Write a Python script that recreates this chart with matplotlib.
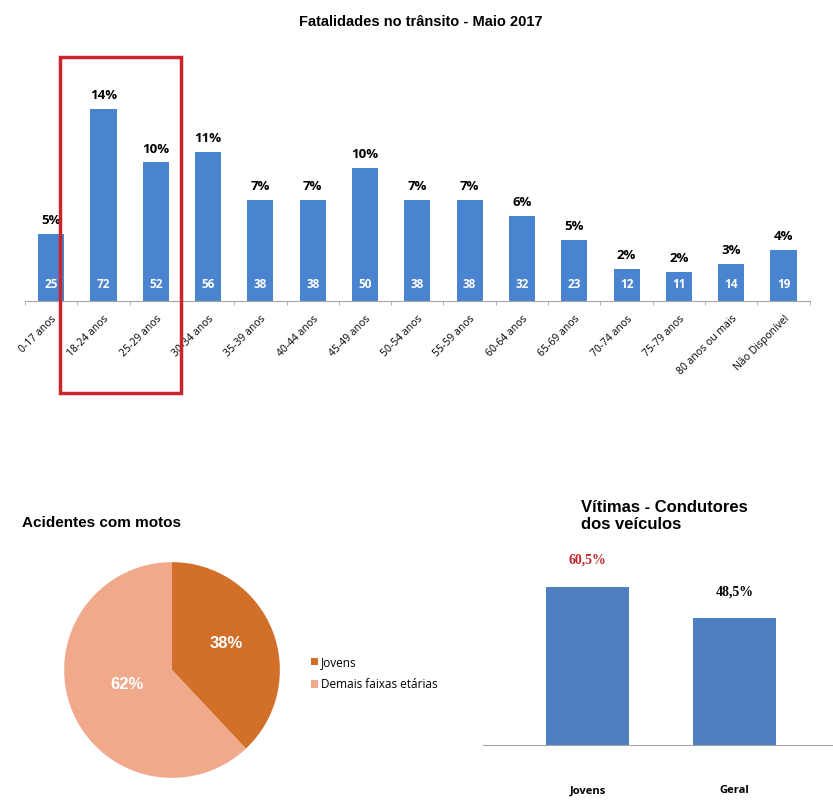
import matplotlib.pyplot as plt
from matplotlib.patches import Rectangle
import numpy as np

# top chart data
faixas = ["0-17 anos", "18-24 anos", "25-29 anos", "30-34 anos", "35-39 anos",
          "40-44 anos", "45-49 anos", "50-54 anos", "55-59 anos", "60-64 anos",
          "65-69 anos", "70-74 anos", "75-79 anos", "80 anos ou mais", "Não Disponível"]
mortes = [25, 72, 52, 56, 38, 38, 50, 38, 38, 32, 23, 12, 11, 14, 19]
percent = ["5%", "14%", "10%", "11%", "7%", "7%", "10%", "7%", "7%", "6%",
           "5%", "2%", "2%", "3%", "4%"]

# pie data
pie_labels = ["Jovens", "Demais faixas etárias"]
pie_vals = [38, 62]

# condutores data
cond_cats = ["Jovens", "Geral"]
cond_vals = [60.5, 48.5]
cond_text = ["60,5%", "48,5%"]

blue = "#4a83d0"
gray = "#a6a6a6"

fig = plt.figure(figsize=(8.33, 8.0), dpi=100)

# ---- top bar chart
ax = fig.add_axes([0.030, 0.624, 0.942, 0.276])
x = np.arange(len(faixas))
ax.bar(x, mortes, width=0.5, color=blue)
for i, (v, p) in enumerate(zip(mortes, percent)):
    ax.annotate(p, (i, v), xytext=(0, 5), textcoords="offset points",
                ha="center", va="bottom", fontsize=9.5, fontweight="bold",
                family="Open Sans")
    ax.text(i, 6, str(v), ha="center", va="center", color="white",
            fontsize=8.5, fontweight="bold", family="Open Sans")
ax.set_xlim(-0.5, len(faixas) - 0.5)
ax.set_ylim(0, 83)
ax.set_yticks([])
for s in ["top", "right", "left"]:
    ax.spines[s].set_visible(False)
ax.spines["bottom"].set_color(gray)
ax.set_xticks(x)
ax.set_xticklabels(faixas, rotation=45, ha="right", rotation_mode="anchor",
                   fontsize=7.5, family="Open Sans")
ax.set_xticks(np.arange(-0.5, len(faixas)), minor=True)
ax.tick_params(axis="x", which="major", length=0, pad=9)
ax.tick_params(axis="x", which="minor", length=3, color=gray)
fig.text(0.505, 0.972, "Fatalidades no trânsito - Maio 2017", ha="center",
         va="center", fontsize=10.5, fontweight="bold", family="Liberation Sans")

# red highlight box
fig.patches.append(Rectangle((0.072, 0.509), 0.145, 0.42, fill=False,
                             edgecolor="#c8262c", linewidth=2.5,
                             transform=fig.transFigure, figure=fig))

# ---- pie
axp = fig.add_axes([0.077, 0.0275, 0.259, 0.27])
wedges, _ = axp.pie(pie_vals, colors=["#d2702a", "#f0a98a"], startangle=90,
                    counterclock=False, radius=1.0)
axp.set_xlim(-1, 1)
axp.set_ylim(-1, 1)
axp.text(0.5, 0.25, "38%", ha="center", va="center", color="white",
         fontsize=12, fontweight="bold", family="Liberation Sans")
axp.text(-0.42, -0.13, "62%", ha="center", va="center", color="white",
         fontsize=12, fontweight="bold", family="Liberation Sans")
axp.set_aspect("equal")
fig.text(0.027, 0.346, "Acidentes com motos", ha="left", va="center",
         fontsize=11, fontweight="bold", family="Liberation Sans")
fig.legend(wedges, pie_labels, loc="center left", bbox_to_anchor=(0.36, 0.158),
           frameon=False, handlelength=0.6, handleheight=0.6,
           handletextpad=0.3, labelspacing=0.8, prop={"family": "Open Sans", "size": 8.5})

# ---- condutores
axc = fig.add_axes([0.58, 0.069, 0.42, 0.2285])
xc = np.arange(len(cond_cats))
axc.bar(xc, cond_vals, width=0.565, color="#4f7fc0")
for i, (v, t, c) in enumerate(zip(cond_vals, cond_text, ["#c0282d", "black"])):
    axc.annotate(t, (i, v), xytext=(0, 19), textcoords="offset points",
                 ha="center", va="center", fontsize=10, fontweight="bold",
                 color=c, family="Liberation Serif")
axc.set_xlim(-0.71, 1.67)
axc.set_ylim(0, 70)
axc.set_yticks([])
for s in ["top", "right", "left"]:
    axc.spines[s].set_visible(False)
axc.spines["bottom"].set_color(gray)
axc.set_xticks(xc)
axc.set_xticklabels(cond_cats, fontsize=8, fontweight="bold", family="Open Sans",
                    va="baseline")
axc.tick_params(axis="x", length=0, pad=35)
fig.text(0.697, 0.355, "Vítimas - Condutores\ndos veículos", ha="left", va="center",
         fontsize=12, fontweight="bold", family="Liberation Sans", linespacing=1.1)

fig.savefig("out.png", dpi=100, facecolor="white")
